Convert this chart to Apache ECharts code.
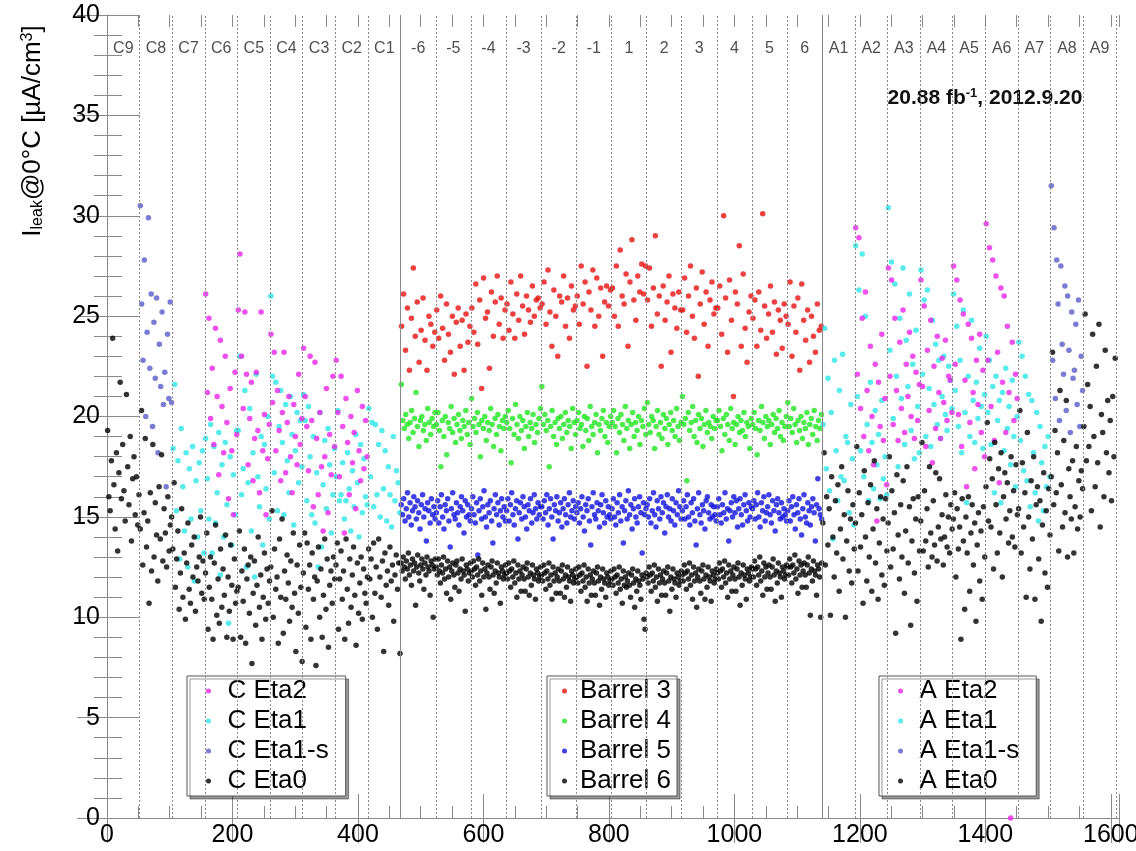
<!DOCTYPE html>
<html><head><meta charset="utf-8">
<script src="https://cdn.jsdelivr.net/npm/echarts@6/dist/echarts.min.js"></script>
<style>html,body{margin:0;padding:0;background:#fff}#c{width:1136px;height:851px}</style>
</head><body><div id="c"></div>
<script>
// ---- section (category) definitions ----
const ENDCAP_C_SECTIONS = ['C9','C8','C7','C6','C5','C4','C3','C2','C1'];
const BARREL_SECTIONS = ['-6','-5','-4','-3','-2','-1','1','2','3','4','5','6'];
const ENDCAP_A_SECTIONS = ['A1','A2','A3','A4','A5','A6','A7','A8','A9'];
const ENDCAP_SECTION_MODULES = 52;
const BARREL_SECTION_MODULES = 56;

// ---- endcap C ----
const C_ETA2_SECTIONS = ['C6','C5','C4','C3','C2'];
const C_ETA2 = [
 [26.1,21.2,24.9,19.9,22.4,18.6,24.4,21.0,17.1,23.8,20.5,18.2,23.0,19.7,15.9,21.4,18.3,15.1,22.2,19.1],
 [25.3,28.1,23.0,20.4,25.2,22.1,17.6,19.9,21.7,16.8,18.9,22.2,19.3,16.2,25.2,18.3,20.1,15.1,17.9,19.6],
 [24.1,20.7,23.2,18.3,21.3,19.3,16.8,20.2,23.2,17.2,19.7,21.0,18.0,16.2,20.6,19.0,17.6,22.1,18.6,19.9],
 [23.4,21.0,19.5,17.3,23.0,19.8,15.5,22.7,18.9,16.1,20.2,17.5,14.3,18.0,21.4,15.2,19.1,17.1,22.0,18.5],
 [22.8,20.2,17.0,22.0,19.5,14.2,20.9,18.7,16.1,20.0,17.7,19.2,15.4,21.3,18.3,16.8,20.5,17.4,19.8,18.0]
];
const C_ETA1_SECTIONS = ['C7','C6','C5','C4','C3','C2','C1'];
const C_ETA1 = [
 [18.4,21.6,15.3,17.8,12.9,19.4,16.5,14.3,18.2,12.5,17.4,14.9,18.5,11.8,16.8,14.0,17.7,15.3,18.3,13.2],
 [18.9,16.9,14.9,19.6,13.2,18.5,14.7,16.2,19.2,12.1,17.6,14.0,18.7,15.6,9.7,18.0,13.6,17.1,15.1,19.3],
 [19.3,23.0,16.1,17.4,21.3,12.5,16.7,20.4,14.3,18.2,12.0,22.1,17.0,15.5,19.0,13.6,18.6,16.4,20.0,14.9],
 [26.0,22.0,17.2,21.7,15.3,19.5,21.3,18.7,15.1,20.6,17.8,16.2,21.0,19.1,14.6,18.3,20.2,16.7,19.8,17.5],
 [21.1,19.8,15.8,20.5,18.0,15.1,19.0,14.7,17.2,12.5,20.2,13.5,16.6,18.8,15.4,19.4,17.6,14.2,16.1,18.4],
 [17.0,20.3,15.8,16.1,17.7,14.9,15.8,18.2,16.4,14.3,17.3,15.5,19.1,16.7,14.0,18.6,15.2,17.9,16.0,15.6],
 [20.4,17.0,19.7,15.5,19.6,16.1,18.6,15.0,19.3,16.4,18.3,14.8,17.5,16.1,14.5,19.0,15.8,17.3,16.7,15.2]
];
const C_ETA1S_SECTIONS = ['C8'];
const C_ETA1S = [
 [30.5,25.6,22.8,27.8,20.0,24.2,29.9,22.4,26.1,19.5,24.7,21.9,25.9,18.2,23.6,21.5,25.2,20.6,22.2,16.5,24.1,20.9,25.7,20.7]
];
const C_ETA0_SECTIONS = ['C9','C8','C7','C6','C5','C4','C3','C2','C1'];
const C_ETA0 = [
 [19.3,16.0,15.3,17.8,23.9,16.6,14.4,18.2,13.3,17.2,21.7,15.9,18.6,16.3,14.8,21.1,17.5,15.6,19.0,13.8,16.9,18.0,15.1,17.0,14.6,16.1],
 [14.4,20.3,12.6,15.2,18.9,13.5,14.8,10.7,16.2,12.3,18.6,13.0,15.7,14.1,11.8,16.5,13.9,18.1,12.8,15.4,14.2,12.5,16.0,13.3,14.6,15.0],
 [13.4,16.7,11.5,12.9,14.3,10.4,12.2,15.4,11.0,13.2,9.9,12.7,14.7,11.4,10.7,13.6,12.0,14.0,10.3,12.5,11.8,13.0,15.0,11.2,12.8,10.9],
 [12.2,14.2,9.4,11.5,13.0,10.9,8.9,12.7,14.6,10.1,11.9,9.7,13.4,10.5,12.4,11.1,14.1,9.0,12.0,10.3,13.6,11.6,8.9,12.9,10.7,11.3],
 [11.5,14.3,9.0,12.3,10.8,13.4,8.7,11.9,12.6,10.2,13.0,7.7,11.2,12.8,9.6,11.6,14.0,10.5,12.1,8.9,11.0,13.2,9.9,12.4,10.7,11.8],
 [12.5,15.3,10.0,13.4,11.4,12.0,8.7,13.9,11.0,14.9,9.2,12.3,10.9,13.1,11.7,9.8,12.8,10.5,14.2,11.2,8.3,12.6,10.2,13.6,11.5,7.8],
 [12.2,14.2,9.5,13.7,11.4,12.6,8.9,13.2,10.9,12.0,7.6,11.8,13.5,10.0,12.4,9.0,11.1,13.9,10.4,12.9,8.5,11.6,12.3,10.7,13.0,11.9],
 [12.6,13.7,9.4,11.9,13.3,10.9,12.3,8.9,13.9,11.4,9.7,12.9,10.5,12.1,13.5,11.1,8.6,12.7,10.2,11.7,13.0,9.9,12.4,11.2,10.7,12.0],
 [13.4,11.9,12.9,10.0,13.7,11.2,12.5,9.4,13.9,12.0,11.0,12.8,8.3,13.2,11.6,12.3,10.6,13.5,11.8,12.6,9.8,12.1,13.1,11.4,12.7,8.2]
];

// ---- barrel (sections -6 ... 6) ----
const BARREL3 = [
 [24.5,26.1,23.3,25.4,22.3,24.9,27.4,24.0,25.7,22.7,24.3,25.9,23.8,22.3,25.0,24.6,23.5,24.2],
 [25.3,23.9,26.0,24.4,22.8,25.6,24.1,23.2,25.0,22.1,24.7,25.4,23.5,24.8,22.3,25.1,23.7,24.5],
 [25.4,24.2,26.6,23.6,25.8,21.4,26.9,24.9,25.2,22.4,26.2,24.0,25.7,27.0,24.6,25.9,23.9,25.3],
 [25.6,24.3,26.7,25.1,23.9,26.1,24.8,27.0,25.5,24.1,26.0,25.3,24.7,26.5,25.0,25.8,25.9,25.4],
 [25.6,26.7,24.6,27.3,25.2,23.5,26.3,25.0,23.0,26.0,25.7,27.0,24.5,25.9,23.9,26.5,25.3,25.5],
 [26.0,24.6,27.5,25.6,26.7,22.5,26.2,25.3,27.3,24.5,26.9,25.0,26.4,23.0,25.7,26.5,25.5,26.3],
 [26.4,25.0,27.5,24.5,28.3,26.0,25.6,27.1,23.5,26.7,28.8,25.8,24.8,27.0,26.2,27.6,26.1,27.5],
 [25.8,27.4,24.5,26.4,29.0,25.1,26.0,22.5,26.5,24.8,25.7,27.0,23.2,26.1,25.4,24.4,26.2,25.3],
 [25.3,26.9,24.2,26.0,27.5,25.0,23.9,26.4,22.0,25.6,27.2,24.6,26.2,23.5,25.8,26.7,25.1,25.4],
 [25.4,26.5,24.1,30.0,25.9,23.2,26.8,24.8,21.0,26.2,25.6,28.5,23.5,27.1,24.4,22.7,25.2,26.0],
 [24.9,25.8,23.5,26.2,24.3,30.1,25.5,23.9,25.1,26.5,24.2,25.7,23.1,25.3,24.8,23.4,25.6,25.0],
 [24.6,26.7,23.0,25.5,24.2,25.9,22.3,26.6,24.8,23.8,25.3,22.7,25.0,24.0,23.2,25.6,24.3,24.5]
];
const BARREL4 = [
 [21.6,19.8,19.4,20.1,19.6,18.9,19.7,20.3,19.2,19.9,21.2,19.5,18.5,19.8,20.0,19.3,19.6,18.8,20.4,19.7,19.1,19.9,19.5,20.2],
 [19.6,20.2,19.3,17.5,19.8,19.0,20.0,18.1,19.7,19.4,20.5,19.2,19.9,18.7,19.6,20.1,19.3,18.9,19.8,19.5,20.3,19.1,19.7,18.6],
 [20.9,19.5,19.9,19.2,20.2,19.6,18.0,19.8,19.4,20.0,18.8,19.7,19.3,20.4,19.6,18.5,19.9,19.1,20.1,19.5,18.3,19.8,19.4,20.0],
 [19.7,20.3,19.4,17.7,19.9,19.1,20.6,19.6,18.9,20.0,19.3,19.8,18.4,19.5,20.2,19.0,19.7,19.4,20.1,18.7,19.6,19.2,19.9,20.4],
 [21.5,19.6,20.1,19.3,19.8,17.5,19.5,20.3,19.0,19.7,18.6,19.9,19.4,20.0,18.9,19.6,20.2,19.2,19.8,19.5,18.4,20.4,19.7,19.1],
 [19.8,20.2,19.4,19.6,18.5,20.0,19.3,19.9,18.8,20.5,19.5,19.1,19.7,20.1,18.2,19.6,19.3,19.9,20.3,19.0,19.7,18.7,19.5,20.0],
 [19.7,20.3,19.5,18.2,19.9,19.2,20.1,19.6,18.8,20.5,19.4,19.8,18.4,19.6,20.2,19.0,19.7,19.3,20.0,18.6,19.8,19.5,20.4,19.1],
 [20.7,19.6,19.2,20.0,19.8,18.4,19.5,20.3,19.1,19.7,18.9,20.1,19.4,19.9,18.6,19.6,20.2,19.3,19.8,19.0,20.4,19.5,18.8,19.7],
 [21.0,19.6,19.9,16.8,20.2,19.3,19.7,20.5,19.0,19.8,18.7,20.1,19.4,19.9,18.5,19.6,20.3,19.2,19.7,19.5,18.9,20.0,19.4,19.8],
 [19.8,20.3,19.5,18.3,19.9,19.1,20.1,19.6,18.8,20.4,19.4,19.7,18.6,19.6,20.0,19.2,19.8,19.3,20.2,19.0,19.7,19.5,18.4,19.9],
 [19.6,20.2,19.4,18.1,19.8,19.3,20.5,19.7,18.9,20.0,19.5,19.8,18.6,19.6,20.1,19.2,19.9,19.4,20.3,19.0,19.7,18.8,19.5,20.0],
 [20.7,19.5,19.9,19.2,20.4,19.6,18.7,19.8,19.3,20.0,18.9,19.7,19.4,20.2,18.6,19.6,19.9,19.1,20.3,19.5,18.8,19.8,19.4,20.1]
];
const BARREL5 = [
 [15.6,15.1,15.9,14.8,15.4,16.2,15.0,15.7,14.6,15.3,16.0,15.5,14.9,15.8,15.2,14.4,15.6,16.1,15.0,15.4,13.8,15.7,15.3,14.7,15.9,15.1,15.5,14.9],
 [15.2,15.8,14.7,15.5,16.1,15.0,14.4,15.6,15.3,15.9,14.8,13.5,15.4,16.2,15.1,14.9,15.7,15.2,14.6,15.5,16.0,15.3,14.2,15.8,15.0,15.6,15.1,14.8],
 [15.4,16.0,15.1,14.7,15.7,13.1,15.3,15.9,14.9,15.5,16.3,15.0,14.5,15.6,15.2,15.8,14.8,13.7,15.4,16.1,15.1,15.7,14.6,15.3,15.9,15.0,15.5,14.8],
 [15.3,15.9,14.8,15.6,16.2,15.1,14.6,15.4,15.8,13.9,15.2,15.7,14.9,16.0,15.5,15.0,14.4,15.6,15.3,15.9,14.7,15.2,16.1,15.4,14.9,15.7,15.1,15.5],
 [15.5,14.9,15.8,15.2,16.1,14.6,15.4,15.9,15.0,13.9,15.6,15.3,16.0,14.8,15.2,15.7,14.5,15.4,15.9,15.1,14.7,15.6,16.2,15.0,15.3,15.8,14.9,15.5],
 [15.2,15.7,14.7,15.4,16.0,15.0,14.3,15.6,15.3,15.9,14.8,13.6,15.5,16.2,15.1,14.9,15.7,15.3,14.5,15.6,16.1,15.2,14.7,15.8,15.0,15.5,15.1,14.9],
 [15.4,15.9,15.0,14.6,15.7,15.2,16.1,14.8,15.5,13.7,15.3,15.8,14.9,16.3,15.1,15.6,14.4,15.4,15.9,15.0,14.7,15.5,16.0,15.2,13.2,15.7,15.1,15.4],
 [15.6,15.0,15.9,14.7,15.3,16.2,15.1,14.5,15.8,15.4,14.9,16.0,15.2,15.7,14.2,15.5,16.1,15.0,15.4,14.8,15.9,15.3,14.6,15.7,15.1,16.3,15.5,14.9],
 [15.3,15.8,14.9,15.5,16.1,15.0,14.6,15.7,15.2,15.9,14.8,13.6,15.4,16.2,15.1,14.7,15.6,15.3,14.4,15.8,16.0,15.2,14.9,15.6,15.0,15.5,15.1,14.8],
 [15.5,15.9,15.1,14.7,15.6,15.2,16.2,14.9,15.4,13.8,15.3,15.7,15.0,16.0,15.2,15.8,14.5,15.4,15.9,15.1,14.6,15.6,16.1,15.3,14.8,15.7,15.0,15.5],
 [15.4,15.8,14.9,15.6,16.2,15.0,14.5,15.7,15.3,16.0,14.8,15.2,15.5,16.1,15.1,14.7,15.8,15.3,14.3,15.6,15.9,15.2,14.9,15.7,15.0,15.4,15.1,14.8],
 [15.3,15.8,14.8,15.5,16.0,15.1,14.4,15.6,15.2,15.9,14.9,14.1,15.4,16.1,15.0,14.7,15.7,15.3,14.6,15.5,15.9,15.2,13.8,15.6,16.9,15.4,15.1,14.9]
];
const BARREL6 = [
 [12.7,12.3,13.0,12.5,11.9,12.8,12.4,13.2,12.1,12.6,11.6,12.9,12.3,12.7,10.6,12.5,13.1,12.2,11.8,12.6,12.9,12.4,11.4,12.7,12.1,13.0,12.5,12.3,11.1,12.8,12.6,10.0,12.4,12.9],
 [12.5,12.1,12.9,12.3,11.7,12.6,12.2,13.0,11.9,12.4,11.2,12.8,12.0,12.5,10.9,12.3,12.7,12.1,11.5,12.6,12.8,12.2,11.3,12.4,11.9,12.9,12.3,12.1,10.3,12.6,12.4,11.8,12.2,12.7],
 [12.3,12.0,12.8,12.4,11.6,12.5,12.1,12.9,11.8,12.3,11.1,12.7,12.0,12.4,10.4,12.2,12.6,12.0,11.4,12.5,12.8,12.1,11.2,12.3,11.7,12.7,12.2,12.0,10.7,12.5,12.3,11.9,12.1,12.6],
 [12.2,11.9,12.7,12.3,11.5,12.4,12.0,12.8,11.7,12.2,11.0,12.6,11.9,12.3,11.3,12.1,12.5,11.9,11.3,12.4,12.7,12.0,11.1,12.2,11.6,12.6,12.1,11.9,10.9,12.4,12.2,11.8,12.0,12.5],
 [12.1,11.8,12.6,12.2,11.4,12.3,11.9,12.7,11.6,12.1,10.9,12.5,11.8,12.2,11.2,12.0,12.4,11.8,11.2,12.3,12.6,11.9,11.0,12.1,11.5,12.5,12.0,11.8,10.8,12.3,12.1,11.7,11.9,12.4],
 [12.0,11.7,12.5,12.1,11.3,12.2,11.8,12.6,11.5,12.0,10.8,12.4,11.7,12.1,11.1,11.9,12.3,11.7,11.1,12.2,12.5,11.8,10.6,12.0,11.4,12.4,11.9,11.7,11.0,12.2,12.0,11.6,11.8,12.3],
 [11.9,11.6,12.4,12.0,11.2,12.1,11.7,12.5,11.4,11.9,10.7,12.3,11.6,12.0,11.5,11.8,12.2,11.6,11.0,12.1,12.4,11.7,10.5,11.9,11.3,12.3,11.8,11.6,10.9,12.1,11.9,9.9,9.4,12.2],
 [12.0,11.7,12.5,12.1,11.3,12.2,11.8,12.6,11.5,12.0,10.8,12.4,11.7,12.1,11.1,11.9,12.3,11.7,11.1,12.2,12.5,11.8,10.3,12.0,11.4,12.4,11.9,11.7,11.0,12.2,12.0,11.6,11.8,12.3],
 [12.1,11.8,12.6,12.2,11.4,12.3,11.9,12.7,11.6,12.1,10.9,12.5,11.8,12.2,10.5,12.0,12.4,11.8,11.2,12.3,12.6,11.9,10.9,12.1,11.5,12.5,12.0,11.8,10.8,12.3,12.1,11.7,11.9,12.4],
 [12.2,11.9,12.7,12.3,11.5,12.4,12.0,12.8,11.7,12.2,11.0,12.6,11.9,12.3,11.3,12.1,12.5,11.9,11.3,12.4,12.7,12.0,10.6,12.2,11.6,12.6,12.1,11.9,10.9,12.4,12.2,11.8,12.0,12.5],
 [12.4,12.0,12.8,12.4,11.6,12.5,12.1,13.0,11.8,12.3,11.1,12.7,12.0,12.5,11.4,12.2,12.6,12.0,11.4,12.5,12.9,12.1,10.8,12.3,11.7,12.7,12.2,12.0,11.0,12.5,12.3,11.9,12.1,12.6],
 [12.5,12.1,12.9,12.5,11.7,12.6,12.2,13.1,11.9,12.4,11.2,12.8,12.1,12.6,11.5,12.3,12.7,12.1,11.5,12.6,13.0,12.2,10.1,12.4,11.8,12.8,12.3,12.1,11.1,12.6,12.4,12.0,10.0,12.7]
];

// ---- endcap A ----
const A_ETA2_SECTIONS = ['A2','A3','A4','A5','A6'];
const A_ETA2 = [
 [29.4,22.1,28.9,20.4,24.9,19.0,26.2,21.3,18.3,23.5,20.0,17.6,22.6,14.8,21.7,19.5,24.1,18.8,20.9,16.6],
 [27.4,22.0,26.8,19.6,24.9,21.3,18.8,23.7,20.4,25.3,19.2,22.6,21.0,24.2,20.0,23.0,18.9,22.2,19.8,21.6],
 [26.8,21.5,25.5,18.5,23.3,20.3,24.8,17.7,22.5,19.4,24.0,21.2,18.9,22.9,20.7,23.8,19.8,22.0,21.8,20.2],
 [27.5,22.6,26.8,20.1,25.8,18.5,25.1,21.8,16.5,24.6,19.7,23.9,21.2,17.4,22.8,20.6,24.1,19.2,22.3,18.0],
 [29.6,22.8,28.4,20.5,27.8,18.8,27.0,23.2,16.7,26.4,21.7,26.0,19.2,24.5,21.2,0.0,23.7,19.8,22.1,20.9]
];
const A_ETA1_SECTIONS = ['A1','A2','A3','A4','A5','A6','A7'];
const A_ETA1 = [
 [19.6,24.4,17.4,21.9,16.3,20.2,13.9,22.8,18.3,15.8,21.3,17.0,23.1,16.8,19.0,18.7,15.2,20.6,17.9,14.6],
 [28.5,21.0,26.3,18.3,28.1,17.0,25.0,19.6,15.8,21.7,18.7,16.4,20.3,17.6,19.1,15.9,20.8,16.9,18.0,16.1],
 [30.4,23.3,27.7,19.9,26.6,22.0,17.5,24.9,20.9,27.4,18.6,23.8,21.5,26.1,19.3,22.6,17.9,24.3,20.5,18.2],
 [27.3,22.1,25.8,19.0,26.3,21.4,18.5,24.8,20.6,23.6,19.6,22.8,18.9,21.0,23.0,20.1,19.3,22.5,21.8,20.4],
 [26.1,21.3,24.5,19.5,22.8,18.2,25.3,20.2,15.7,22.0,19.0,24.8,20.8,18.7,21.7,19.9,23.4,20.5,18.4,21.1],
 [24.0,20.2,22.8,18.6,21.5,16.2,22.0,19.8,20.8,15.7,21.2,18.3,22.4,19.4,20.5,17.6,21.8,19.0,16.5,20.0],
 [23.7,18.8,23.0,17.3,22.0,16.8,21.1,15.5,20.8,18.2,16.2,20.2,14.8,19.5,17.7,15.3,18.5,16.5,19.0,17.0]
];
const A_ETA1S_SECTIONS = ['A8'];
const A_ETA1S = [
 [31.5,22.8,29.4,20.9,27.8,25.6,19.8,27.5,23.6,22.1,26.5,20.3,26.0,23.3,19.2,25.2,21.9,22.3,24.6,20.6,25.8,19.5,23.0,21.3]
];
const A_ETA0_SECTIONS = ['A1','A2','A3','A4','A5','A6','A7','A8','A9'];
const A_ETA0 = [
 [14.7,18.2,12.6,16.0,13.6,15.4,10.1,17.0,14.0,12.0,15.8,13.2,16.6,11.3,14.4,17.5,12.9,15.1,10.0,13.8,16.3,12.3,14.9,11.7,15.6,13.4],
 [14.7,18.5,12.3,16.2,13.5,15.1,10.7,17.3,14.0,11.8,15.7,13.0,16.6,11.3,14.4,17.8,12.7,15.4,10.9,13.7,16.0,12.1,14.9,11.6,15.9,13.3],
 [14.7,18.0,12.5,16.3,13.4,15.2,9.2,17.1,14.1,11.9,15.6,13.0,16.8,11.2,14.3,17.5,12.7,15.5,9.6,13.8,15.9,12.2,14.9,10.8,16.0,13.3],
 [14.8,18.7,13.3,16.3,13.8,15.4,12.5,17.5,14.2,13.0,15.8,13.6,17.2,12.8,14.5,16.9,13.9,15.1,12.6,14.0,16.1,13.5,15.0,13.2,15.6,14.4],
 [14.9,16.2,12.0,15.4,13.4,14.5,8.9,15.9,13.8,10.4,15.0,13.2,16.0,11.3,14.2,15.6,12.6,14.7,9.8,13.6,15.2,11.8,14.3,10.9,15.5,13.0],
 [16.5,19.7,14.8,17.9,14.5,16.9,12.4,18.7,15.6,13.2,17.4,14.2,18.2,12.0,16.0,17.2,14.9,16.7,13.7,15.3,18.0,14.0,16.3,13.5,17.6,15.1],
 [15.4,20.3,13.2,17.7,14.5,16.2,11.0,19.2,15.0,12.4,16.8,13.9,18.0,10.9,15.6,16.5,12.9,15.8,9.8,14.6,17.2,12.2,15.3,11.5,16.4,14.1],
 [17.0,23.2,15.6,19.3,16.2,18.2,13.3,21.3,16.6,14.5,18.8,15.2,20.8,13.0,17.4,16.0,14.9,17.8,13.2,15.5,18.5,14.4,16.8,15.0,17.3,16.4],
 [19.5,25.1,17.8,21.6,18.5,20.5,15.3,24.1,19.0,16.5,22.5,17.7,24.6,14.5,20.1,19.2,16.0,23.3,18.2,20.8,17.2,19.8,15.8,21.0,18.0,22.9]
];

// ---- build section geometry (module index ranges) ----
const sections = [];
let cursor = 0;
function addSections(names, width) {
  names.forEach(n => { sections.push({ name: n, start: cursor, width: width }); cursor += width; });
}
addSections(ENDCAP_C_SECTIONS, ENDCAP_SECTION_MODULES);
addSections(BARREL_SECTIONS, BARREL_SECTION_MODULES);
addSections(ENDCAP_A_SECTIONS, ENDCAP_SECTION_MODULES);
const secByName = {};
sections.forEach(s => { secByName[s.name] = s; });
const barrelStart = secByName['-6'].start;
const barrelEnd = secByName['6'].start + BARREL_SECTION_MODULES;
const X_MAX = cursor + 5;

function place(names, lists) {
  const out = [];
  names.forEach((n, i) => {
    const s = secByName[n], vals = lists[i];
    vals.forEach((v, j) => out.push([s.start + (j + 0.5) * s.width / vals.length, v]));
  });
  return out;
}

const FONT = 'Liberation Sans, Arial, sans-serif';
const COL = {
  eta2: '#e824e8', eta1: '#2ee6e6', eta1s: '#5a5ac8', eta0: '#000000',
  b3: '#e81010', b4: '#22e622', b5: '#1010e0', b6: '#000000'
};

function sc(name, color, data) {
  return {
    type: 'scatter', name: name, data: data, symbol: 'circle', symbolSize: 5.5,
    itemStyle: { color: color }, xAxisIndex: 0, yAxisIndex: 0, silent: true, clip: false
  };
}

const series = [
  sc('C Eta1-s', COL.eta1s, place(C_ETA1S_SECTIONS, C_ETA1S)),
  sc('C Eta1', COL.eta1, place(C_ETA1_SECTIONS, C_ETA1)),
  sc('C Eta2', COL.eta2, place(C_ETA2_SECTIONS, C_ETA2)),
  sc('C Eta0', COL.eta0, place(C_ETA0_SECTIONS, C_ETA0)),
  sc('Barrel 3', COL.b3, place(BARREL_SECTIONS, BARREL3)),
  sc('Barrel 4', COL.b4, place(BARREL_SECTIONS, BARREL4)),
  sc('Barrel 5', COL.b5, place(BARREL_SECTIONS, BARREL5)),
  sc('Barrel 6', COL.b6, place(BARREL_SECTIONS, BARREL6)),
  sc('A Eta1-s', COL.eta1s, place(A_ETA1S_SECTIONS, A_ETA1S)),
  sc('A Eta1', COL.eta1, place(A_ETA1_SECTIONS, A_ETA1)),
  sc('A Eta2', COL.eta2, place(A_ETA2_SECTIONS, A_ETA2)),
  sc('A Eta0', COL.eta0, place(A_ETA0_SECTIONS, A_ETA0))
];

// section labels + boundary lines
const boundaryLines = [];
sections.forEach((s, i) => {
  if (i === 0) return;
  const solid = (s.start === barrelStart || s.start === barrelEnd);
  boundaryLines.push(solid ? { xAxis: s.start, lineStyle: { type: 'solid', color: '#8a8a8a' } } : { xAxis: s.start });
});
boundaryLines.push({ xAxis: cursor });

series.unshift({
  type: 'scatter', name: '_labels', silent: true, symbolSize: 1,
  itemStyle: { color: 'rgba(0,0,0,0)' },
  data: sections.map(s => ({ name: s.name, value: [s.start + s.width / 2, 38.35] })),
  label: { show: true, position: 'inside', formatter: '{b}', fontSize: 16, color: '#222', fontFamily: FONT },
  markLine: {
    silent: true, symbol: ['none', 'none'], animation: false,
    label: { show: false },
    lineStyle: { color: '#8a8a8a', type: [2, 2], width: 1 },
    data: boundaryLines
  }
});

const legendCommon = {
  orient: 'vertical', top: 676, itemHeight: 5, itemGap: 0, icon: 'circle',
  selectedMode: false, backgroundColor: '#fff', borderColor: '#555', borderWidth: 1,
  shadowColor: 'rgba(0,0,0,0.4)', shadowOffsetX: 3, shadowOffsetY: 3, shadowBlur: 0,
  textStyle: { fontSize: 26, lineHeight: 30, color: '#000', fontFamily: FONT }
};

const axisGray = '#8a8a8a';
function xAx(pos, interval, len, showLine, showLabels) {
  return {
    type: 'value', position: pos, min: 0, max: X_MAX, interval: interval,
    axisLine: { show: showLine, lineStyle: { color: axisGray } },
    axisTick: { show: true, inside: true, length: len, lineStyle: { color: axisGray } },
    splitLine: { show: false },
    axisLabel: showLabels ? {
      show: true, fontSize: 25, color: '#000', fontFamily: FONT, margin: 5,
      formatter: v => (v % 200 === 0 ? String(v) : '')
    } : { show: false }
  };
}

const option = {
  animation: false,
  backgroundColor: '#fff',
  grid: { left: 107, right: 17, top: 15, bottom: 33, containLabel: false, outerBoundsMode: 'none' },
  xAxis: [
    xAx('bottom', 200, 24, true, true),
    xAx('top', 200, 25, true, false),
    xAx('bottom', 50, 12, false, false),
    xAx('top', 50, 12, false, false)
  ],
  yAxis: [
    { type: 'value', position: 'left', min: 0, max: 40, interval: 5,
      axisLine: { show: true, lineStyle: { color: axisGray } },
      axisTick: { inside: true, length: 33, lineStyle: { color: axisGray } },
      minorTick: { show: true, splitNumber: 5, length: 15, lineStyle: { color: axisGray } },
      splitLine: { show: false },
      axisLabel: { fontSize: 25, color: '#000', fontFamily: FONT, margin: 7 } },
    { type: 'value', position: 'right', min: 0, max: 40, interval: 5,
      axisLine: { show: true, lineStyle: { color: axisGray } },
      axisTick: { inside: true, length: 30, lineStyle: { color: axisGray } },
      minorTick: { show: true, splitNumber: 5, length: 13, lineStyle: { color: axisGray } },
      splitLine: { show: false },
      axisLabel: { show: false } }
  ],
  legend: [
    Object.assign({}, legendCommon, { left: 187, itemWidth: 28, padding: [0, 17, 0, 19],
      data: ['C Eta2', 'C Eta1', 'C Eta1-s', 'C Eta0'] }),
    Object.assign({}, legendCommon, { left: 547, itemWidth: 21, padding: [0, 6, 0, 15],
      data: ['Barrel 3', 'Barrel 4', 'Barrel 5', 'Barrel 6'] }),
    Object.assign({}, legendCommon, { left: 879, itemWidth: 28, padding: [0, 17, 0, 19],
      data: ['A Eta2', 'A Eta1', 'A Eta1-s', 'A Eta0'] })
  ],
  graphic: [
    { type: 'text', x: 33, y: 131, rotation: Math.PI / 2, silent: true,
      style: {
        text: '{m|I}{s|leak}{m|@0°C [µA/cm}{p|3}{m|]}',
        align: 'center', verticalAlign: 'middle', fill: '#000',
        rich: {
          m: { fontSize: 26, fontFamily: FONT, lineHeight: 26, fill: '#000' },
          s: { fontSize: 16, fontFamily: FONT, lineHeight: 6, verticalAlign: 'bottom', fill: '#000' },
          p: { fontSize: 16, fontFamily: FONT, lineHeight: 6, verticalAlign: 'top', fill: '#000' }
        }
      } },
    { type: 'text', x: 985, y: 98, silent: true,
      style: {
        text: '{b|20.88 fb}{u|-1}{b|, 2012.9.20}',
        align: 'center', verticalAlign: 'middle',
        rich: {
          b: { fontSize: 21, fontWeight: 'bold', fontFamily: FONT, lineHeight: 22, fill: '#111' },
          u: { fontSize: 13, fontWeight: 'bold', fontFamily: FONT, lineHeight: 6, verticalAlign: 'top', fill: '#111' }
        }
      } }
  ],
  series: series
};

const chart = echarts.init(document.getElementById('c'), null, { renderer: 'canvas' });
chart.setOption(option);
</script>
</body></html>
